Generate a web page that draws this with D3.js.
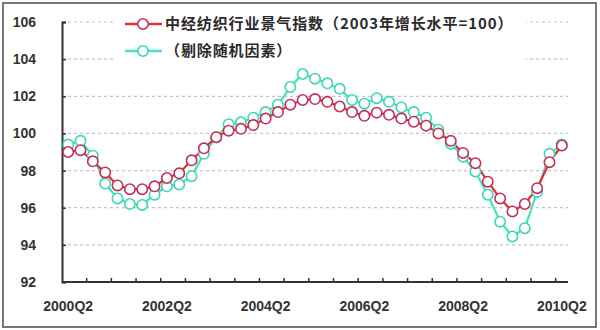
<!DOCTYPE html>
<html>
<head>
<meta charset="utf-8">
<script src="https://cdn.jsdelivr.net/npm/d3@7"></script>
<style>
  html, body { margin: 0; padding: 0; background: #fff; }
  svg { display: block; }
</style>
</head>
<body>
<svg id="chart" width="600" height="330"></svg>
<script>
const categories = [
  "2000Q2","2000Q3","2000Q4","2001Q1","2001Q2","2001Q3","2001Q4","2002Q1",
  "2002Q2","2002Q3","2002Q4","2003Q1","2003Q2","2003Q3","2003Q4","2004Q1",
  "2004Q2","2004Q3","2004Q4","2005Q1","2005Q2","2005Q3","2005Q4","2006Q1",
  "2006Q2","2006Q3","2006Q4","2007Q1","2007Q2","2007Q3","2007Q4","2008Q1",
  "2008Q2","2008Q3","2008Q4","2009Q1","2009Q2","2009Q3","2009Q4","2010Q1",
  "2010Q2"
];
const indexValues = [
  99.0, 99.1, 98.5, 97.9, 97.2, 97.0, 97.0, 97.15,
  97.6, 97.85, 98.55, 99.2, 99.8, 100.15, 100.25, 100.45,
  100.8, 101.15, 101.55, 101.8, 101.85, 101.7, 101.45, 101.15,
  100.95, 101.12, 101.0, 100.8, 100.63, 100.42, 100.0, 99.6,
  98.95, 98.4, 97.4, 96.5, 95.8, 96.2, 97.05, 98.45,
  99.35
];
const adjustedValues = [
  99.4, 99.6, 98.8, 97.3, 96.5, 96.2, 96.15, 96.7,
  97.15, 97.25, 97.7, 98.9, 99.8, 100.5, 100.6, 100.85,
  101.15, 101.55, 102.5, 103.2, 102.95, 102.7, 102.4, 101.8,
  101.6, 101.9, 101.7, 101.4, 101.15, 100.85, 100.2, 99.45,
  98.75, 97.95, 96.7, 95.25, 94.45, 94.9, 96.85, 98.9,
  99.4
];
const yTicks = [92, 94, 96, 98, 100, 102, 104, 106];
const xTickLabels = ["2000Q2", "2002Q2", "2004Q2", "2006Q2", "2008Q2", "2010Q2"];
const seriesNames = ["中经纺织行业景气指数（2003年增长水平=100）", "（剔除随机因素）"];

const svg = d3.select("#chart");
const L = 62, R = 568, T = 22, B = 282;

// outer frame
svg.append("rect").attr("x", 3).attr("y", 3).attr("width", 593).attr("height", 324)
  .attr("fill", "#fff").attr("stroke", "#777").attr("stroke-width", 2);

const x = d3.scaleBand().domain(categories).range([L, R]);
const y = d3.scaleLinear().domain([92, 106]).range([B, T]);
const cx = d => x(d) + x.bandwidth() / 2;

// gridlines
svg.append("g").selectAll("line").data(yTicks.filter(t => t > 92)).join("line")
  .attr("x1", L).attr("x2", R)
  .attr("y1", d => y(d)).attr("y2", d => y(d))
  .attr("stroke", "#c4c4c4").attr("stroke-width", 1.2)
  .attr("stroke-dasharray", "3,3");

// y axis
const yAxis = d3.axisLeft(y).tickValues(yTicks).tickSize(-4).tickPadding(26)
  .tickFormat(d3.format("d"));
const gy = svg.append("g").attr("transform", `translate(${L},0)`).call(yAxis);
gy.select(".domain").attr("stroke", "#333").attr("stroke-width", 2);
gy.selectAll(".tick line").attr("stroke", "#333").attr("stroke-width", 1.5);
gy.selectAll(".tick text").attr("font-family", "Liberation Sans, Arial, sans-serif")
  .attr("font-size", 14).attr("font-weight", "bold").attr("fill", "#333");

// x axis
const gx = svg.append("g").attr("transform", `translate(0,${B})`);
gx.append("line").attr("x1", L).attr("x2", R).attr("y1", 0).attr("y2", 0)
  .attr("stroke", "#333").attr("stroke-width", 2);
const tickCats = categories.filter((c, i) => i % 2 === 0 && i > 0);
gx.selectAll("line.tk").data(tickCats).join("line").attr("class", "tk")
  .attr("x1", d => x(d)).attr("x2", d => x(d)).attr("y1", 0).attr("y2", -4)
  .attr("stroke", "#333").attr("stroke-width", 1.5);
gx.selectAll("text").data(xTickLabels).join("text")
  .attr("x", d => cx(d)).attr("y", 29).attr("text-anchor", "middle")
  .attr("font-family", "Liberation Sans, Arial, sans-serif")
  .attr("font-size", 14).attr("font-weight", "bold").attr("fill", "#333")
  .text(d => d);

// series
const series = [
  { values: adjustedValues, line: "#44e2c0", mark: "#3fd6b4" },
  { values: indexValues, line: "#e2302c", mark: "#c2305a" }
];
const lineGen = d3.line().x((d, i) => cx(categories[i])).y(d => y(d));
series.forEach(s => {
  svg.append("path").datum(s.values).attr("d", lineGen)
    .attr("fill", "none").attr("stroke", s.line).attr("stroke-width", 2.2);
});
series.forEach(s => {
  svg.append("g").selectAll("circle").data(s.values).join("circle")
    .attr("cx", (d, i) => cx(categories[i])).attr("cy", d => y(d)).attr("r", 5.2)
    .attr("fill", "#fff").attr("stroke", s.mark).attr("stroke-width", 1.6);
});

// legend
const lg = svg.append("g");
lg.append("rect").attr("x", 116).attr("y", 10).attr("width", 410).attr("height", 56).attr("fill", "#fff");
const legendItems = [
  { name: seriesNames[0], line: "#e2302c", mark: "#c2305a", y: 24 },
  { name: seriesNames[1], line: "#44e2c0", mark: "#3fd6b4", y: 51 }
];
legendItems.forEach(it => {
  lg.append("line").attr("x1", 125).attr("x2", 162).attr("y1", it.y).attr("y2", it.y)
    .attr("stroke", it.line).attr("stroke-width", 2.5);
  lg.append("circle").attr("cx", 143).attr("cy", it.y).attr("r", 5.2)
    .attr("fill", "#fff").attr("stroke", it.mark).attr("stroke-width", 1.6);
  lg.append("text").attr("x", 165).attr("y", it.y).attr("dy", "0.36em")
    .attr("font-family", "Noto Sans CJK SC, sans-serif").attr("font-size", 15)
    .attr("letter-spacing", 0.9)
    .attr("font-weight", "bold").attr("fill", "#2a2a2a").text(it.name);
});
</script>
</body>
</html>
